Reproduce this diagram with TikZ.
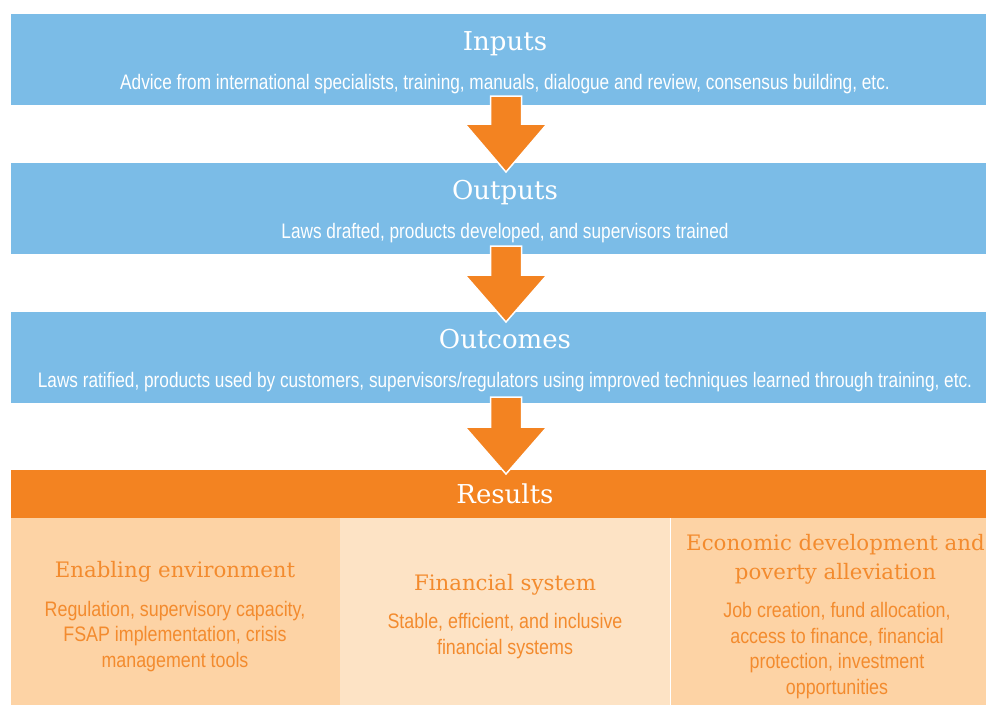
\documentclass[tikz,border=0pt]{standalone}
\usepackage{fontspec}
\setmainfont{Liberation Sans}
\newfontfamily\bodyfont[FakeStretch=0.82]{Liberation Sans}
\newfontfamily\colfont[FakeStretch=0.85]{Liberation Sans}
\newfontfamily\slabfont{DejaVu Serif}
\usetikzlibrary{calc}
\definecolor{boxblue}{HTML}{7BBCE7}
\definecolor{resorange}{HTML}{F38321}
\definecolor{colA}{HTML}{FDD3A5}
\definecolor{colB}{HTML}{FDE3C5}
\definecolor{txtorange}{HTML}{F38B2E}
\tikzset{
  panel/.style={rectangle, inner sep=0pt, outer sep=0pt, anchor=north west},
  bluebox/.style={panel, fill=boxblue, minimum width=975pt, minimum height=91pt},
  headtitle/.style={anchor=base, inner sep=0pt, text=white, font=\slabfont\fontsize{26}{30}\selectfont},
  headbody/.style={anchor=base, inner sep=0pt, text=white, font=\bodyfont\fontsize{21}{24}\selectfont},
  coltitle/.style={anchor=base, inner sep=0pt, align=center, text=txtorange, font=\slabfont\fontsize{21.3}{29}\selectfont},
  colbody/.style={anchor=base, inner sep=0pt, align=center, text=txtorange, font=\colfont\fontsize{21}{25.5}\selectfont},
  flowarrow/.style={fill=resorange, draw=white, line width=1.5pt, line join=miter}
}
\begin{document}
\begin{tikzpicture}[x=1pt,y=-1pt]
\useasboundingbox (0,0) rectangle (986,705);
% boxes
\node[bluebox] (inputs) at (11,14) {};
\node[bluebox] (outputs) at (11,163) {};
\node[bluebox] (outcomes) at (11,312) {};
\node[panel, fill=resorange, minimum width=975pt, minimum height=48pt] (results) at (11,470) {};
\node[panel, fill=colA, minimum width=329pt, minimum height=187pt] (colenv) at (11,518) {};
\node[panel, fill=colB, minimum width=330pt, minimum height=187pt] (colfin) at (340,518) {};
\node[panel, fill=colA, minimum width=315pt, minimum height=187pt] (coleco) at (671,518) {};
% arrows
\foreach \a/\b/\t/\h/\e in {inputs/outputs/96/124/172, outputs/outcomes/246/275/322, outcomes/results/397/427/474}{
  \draw[flowarrow] (490.5,\t) -- (521.5,\t) -- (521.5,\h) -- (547,\h) -- (506,\e) -- (465,\h) -- (490.5,\h) -- cycle;
}
% texts
\node[headtitle] (tin) at (505,50) {Inputs};
\node[headbody] (bin) at (505,89) {Advice from international specialists, training, manuals, dialogue and review, consensus building, etc.};
\node[headtitle] (tout) at (505,199) {Outputs};
\node[headbody] (bout) at (505,238) {Laws drafted, products developed, and supervisors trained};
\node[headtitle] (tocm) at (505,348) {Outcomes};
\node[headbody] (bocm) at (505,387) {Laws ratified, products used by customers, supervisors/regulators using improved techniques learned through training, etc.};
\node[headtitle] (tres) at (505,503) {Results};
\node[coltitle] (tenv) at (175,577) {Enabling environment};
\node[colbody] (benv) at (175,667) {Regulation, supervisory capacity,\\FSAP implementation, crisis\\management tools};
\node[coltitle] (tfin) at (505,590) {Financial system};
\node[colbody] (bfin) at (505,654) {Stable, efficient, and inclusive\\financial systems};
\node[coltitle] (teco) at (835.5,579) {Economic development and\\poverty alleviation};
\node[colbody] (beco) at (837,694) {Job creation, fund allocation,\\access to finance, financial\\protection, investment\\opportunities};
\end{tikzpicture}
\end{document}
